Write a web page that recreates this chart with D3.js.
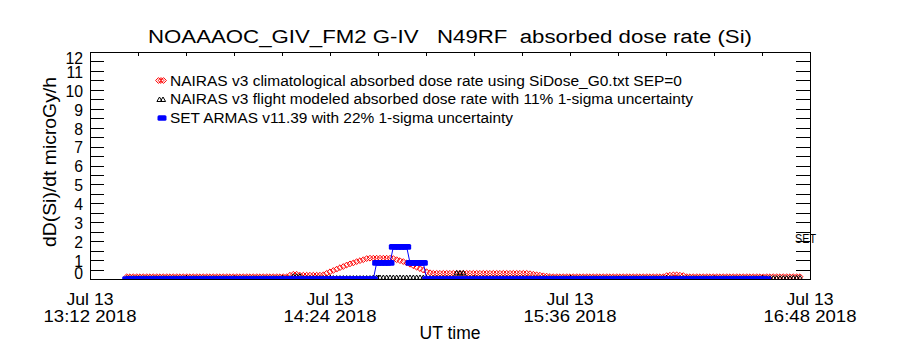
<!DOCTYPE html>
<html><head><meta charset="utf-8">
<script src="https://cdn.jsdelivr.net/npm/d3@7"></script>
<style>
body{margin:0;background:#fff}
svg{display:block}
text{font-family:"Liberation Sans",Arial,sans-serif;fill:#000}
</style>
</head><body>
<svg id="c" width="900" height="350"></svg>
<script>
// ---------------- data ----------------
const title = "NOAAAOC_GIV_FM2 G-IV   N49RF  absorbed dose rate (Si)";
const yLabel = "dD(Si)/dt microGy/h";
const xLabel = "UT time";
const rightLabel = "SET";
const legendLabels = [
  "NAIRAS v3 climatological absorbed dose rate using SiDose_G0.txt SEP=0",
  "NAIRAS v3 flight modeled absorbed dose rate with 11% 1-sigma uncertainty",
  "SET ARMAS v11.39 with 22% 1-sigma uncertainty"
];
const xTickDates = ["Jul 13", "Jul 13", "Jul 13", "Jul 13"];
const xTickTimes = ["13:12 2018", "14:24 2018", "15:36 2018", "16:48 2018"];
const xTickMinutes = [0, 72, 144, 216];          // minutes after 13:12 UT
const yTickLabels = [0,1,2,3,4,5,6,7,8,9,10,11,12];
const startMinute = 11;                           // first sample, minutes after 13:12 UT, one sample per minute

const climatological = [
  0.12,0.12,0.12,0.12,0.12,0.12,0.12, 0.12,0.12,0.12,0.12,0.12,0.12,0.12,
  0.12,0.12,0.12,0.12,0.12,0.12,0.12, 0.12,0.12,0.12,0.12,0.12,0.12,0.12,
  0.12,0.12,0.12,0.12,0.12,0.12,0.12, 0.12,0.12,0.12,0.12,0.12,0.12,0.12,
  0.12,0.12,0.12,0.12,0.12,0.12,0.12,
  0.2,0.25,0.25,0.2,
  0.2,0.2,0.2,0.2,0.2,0.2,
  0.22,0.3,0.38,0.45,0.52,0.6,0.66,0.74,0.8,0.85,0.92,0.97,1.02,1.08,
  1.1,1.1,1.1,1.1,1.1,1.1,1.1,
  1.08,1.02,0.97,0.92,0.85,0.78,0.7,0.62,0.55,0.47,0.38,0.33,
  0.3,0.3,0.3,0.3,0.3,0.3,0.3,0.3,0.3,0.3, 0.3,0.3,0.3,0.3,0.3,0.3,0.3,0.3,0.3,0.3,
  0.3,0.3,0.3,0.3,0.3,0.3,0.3,0.3,0.3,
  0.28,0.25,0.22,0.2,0.17,0.15,0.13,
  0.12,0.12,0.12,0.12,0.12,0.12,0.12,0.12,0.12,0.12, 0.12,0.12,0.12,0.12,0.12,0.12,0.12,0.12,0.12,0.12,
  0.12,0.12,0.12,0.12,0.12,0.12,0.12,0.12,0.12,0.12, 0.12,0.12,0.12,0.12,
  0.18,0.2,0.22,0.22,0.2,0.18,
  0.12,0.12,0.12,0.12,0.12,0.12,0.12,0.12,0.12,0.12, 0.12,0.12,0.12,0.12,0.12,0.12,0.12,0.12,0.12,0.12,
  0.12,0.12,0.12,0.12,0.12,0.12,0.12,0.12,0.12,0.12, 0.12,0.12,0.12,0.12,0.12
];

const flightModeled = [
  0.05,0.05,0.05,0.05,0.05,0.05,0.05,0.05,0.05,0.05, 0.05,0.05,0.05,0.05,0.05,0.05,0.05,0.05,0.05,0.05,
  0.05,0.05,0.05,0.05,0.05,0.05,0.05,0.05,0.05,0.05, 0.05,0.05,0.05,0.05,0.05,0.05,0.05,0.05,0.05,0.05,
  0.05,0.05,0.05,0.05,0.05,0.05,0.05,0.05,0.05,0.05,
  0.15,0.15,0.15,
  0.05,0.05,0.05,0.05,0.05,0.05,0.05,0.05,0.05,0.05, 0.05,0.05,0.05,0.05,0.05,0.05,0.05,0.05,0.05,0.05,0.05,
  0.08,0.08,0.08,0.08,0.08,0.08,0.08,0.08,0.08,0.08,0.08,0.08,0.08,0.08,0.08,0.08,
  0.05,0.05,0.05,0.05,0.05,0.05,0.05,0.05,0.05,
  0.32,0.32,0.32,
  0.05,0.05,
  0.05,0.05,0.05,0.05,0.05,0.05,0.05,0.05,0.05,0.05, 0.05,0.05,0.05,0.05,0.05,0.05,0.05,0.05,0.05,0.05,
  0.05,0.05,0.05,0.05,0.05,0.05,0.05,0.05,0.05,0.05, 0.05,0.05,0.05,0.05,0.05,0.05,0.05,0.05,0.05,0.05,
  0.05,0.05,0.05,0.05,0.05,0.05,0.05,0.05,0.05,0.05, 0.05,0.05,0.05,0.05,0.05,0.05,0.05,0.05,0.05,0.05,
  0.05,0.05,0.05,0.05,0.05,0.05,0.05,0.05,0.05,0.05, 0.05,0.05,0.05,0.05,0.05,0.05,0.05,0.05,0.05,0.05,
  0.05,0.05,0.05,0.05,0.05,0.05,0.05,0.05,0.05,0.05, 0.05,0.05,0.05,0.05,0.05,0.05,
  0.06,0.06,0.06
];

const armas = [
  0,0,0,0,0,0,0,0,0,0, 0,0,0,0,0,0,0,0,0,0, 0,0,0,0,0,0,0,0,0,0,
  0,0,0,0,0,0,0,0,0,0, 0,0,0,0,0,0,0,0,0,0, 0,0,0,0,0,0,0,0,0,0,
  0,0,0,0,0,0,0,0,0,0, 0,0,0,0,0,
  0.85,0.85,0.85,0.85,0.85,
  1.7,1.7,1.7,1.7,1.7,
  0.85,0.85,0.85,0.85,0.85,
  0,0,0,0,0,0,0,0,0,0, 0,0,0,0,0,0,0,0,0,0, 0,0,0,0,0,0,0,0,0,0,
  0,0,0,0,0,0,0,0,0,0, 0,0,0,0,0,0,0,0,0,0, 0,0,0,0,0,0,0,0,0,0,
  0,0,0,0,0,0,0,0,0,0, 0,0,0,0,0,0,0,0,0,0, 0,0,0,0,0,0,0,0,0,0,
  0,0,0,0,0,0,0,0,0,0, 0,0,0
];

// ---------------- chart ----------------
const t0 = Date.UTC(2018, 6, 13, 13, 12);
const tAt = m => new Date(t0 + m * 60000);
const svg = d3.select("#c");
const L = 90, R = 810, T = 52, B = 279;

const x = d3.scaleUtc().domain([tAt(0), tAt(216)]).range([L, R]);
const y = d3.scaleLinear().domain([0, 12]).range([B, T]);

const toPts = arr => arr.map((v, i) => ({t: tAt(startMinute + i), v}));
const redPts = toPts(climatological), blkPts = toPts(flightModeled), bluPts = toPts(armas);

svg.append("defs").append("clipPath").attr("id", "clip")
  .append("rect").attr("x", L).attr("y", T).attr("width", R - L).attr("height", B - T);

// axes ticks
const xMinor = d3.range(0, 16).map(i => new Date(t0 + i * 14.4 * 60000)).concat([tAt(216)]);
const yMinor = d3.range(0, 24.5, 1).map(i => i * 0.5);

const fix = g => { g.select(".domain").remove(); g.selectAll("line").attr("stroke", "#000").attr("shape-rendering", "crispEdges"); g.selectAll("text").remove(); };
svg.append("g").attr("transform", `translate(0,${B})`).call(d3.axisBottom(x).tickValues(xMinor).tickSizeInner(-4).tickSizeOuter(0)).call(fix);
svg.append("g").attr("transform", `translate(0,${T})`).call(d3.axisTop(x).tickValues(xMinor).tickSizeInner(-4).tickSizeOuter(0)).call(fix);
svg.append("g").attr("transform", `translate(${L},0)`).call(d3.axisLeft(y).tickValues(yMinor).tickSizeInner(-14).tickSizeOuter(0)).call(fix);
svg.append("g").attr("transform", `translate(${R},0)`).call(d3.axisRight(y).tickValues(yMinor).tickSizeInner(-14).tickSizeOuter(0)).call(fix);

svg.append("rect").attr("x", L + 0.5).attr("y", T + 0.5).attr("width", R - L).attr("height", B - T)
  .attr("fill", "none").attr("stroke", "#000").attr("stroke-width", 1).attr("shape-rendering", "crispEdges");

// y tick labels
svg.append("g").selectAll("text").data(yTickLabels).join("text")
  .attr("x", 83).attr("text-anchor", "end").attr("font-size", 15.8)
  .attr("y", d => d === 0 ? B + 0.3 : (d === 12 ? T + 12 : y(d) + 6.9))
  .text(d => d);

// x tick labels
const xl = svg.append("g").selectAll("g").data(xTickMinutes).join("g");
xl.append("text").attr("x", d => x(tAt(d))).attr("y", 305).attr("text-anchor", "middle").attr("font-size", 16.5)
  .attr("textLength", 47).attr("lengthAdjust", "spacingAndGlyphs")
  .text((d, i) => xTickDates[i]);
xl.append("text").attr("x", d => x(tAt(d))).attr("y", 322).attr("text-anchor", "middle").attr("font-size", 16.5)
  .attr("textLength", 93).attr("lengthAdjust", "spacingAndGlyphs")
  .text((d, i) => xTickTimes[i]);

// titles
svg.append("text").attr("x", 450).attr("y", 43).attr("text-anchor", "middle").attr("font-size", 18)
  .attr("xml:space", "preserve").style("white-space", "pre")
  .attr("textLength", 604).attr("lengthAdjust", "spacingAndGlyphs").text(title);
svg.append("text").attr("x", 450).attr("y", 339).attr("text-anchor", "middle").attr("font-size", 17.5).text(xLabel);
svg.append("text").attr("transform", "translate(56,162) rotate(-90)").attr("text-anchor", "middle").attr("font-size", 17.5)
  .attr("textLength", 170).attr("lengthAdjust", "spacingAndGlyphs").text(yLabel);
svg.append("text").attr("x", 795).attr("y", 243).attr("font-size", 13).attr("textLength", 21)
  .attr("lengthAdjust", "spacingAndGlyphs").text(rightLabel);

// symbols
const diamond = (g, cx, cy) => g.append("path").attr("d", `M${cx},${cy-2.9}L${cx+2.9},${cy}L${cx},${cy+2.9}L${cx-2.9},${cy}Z`)
  .attr("fill", "none").attr("stroke", "#ff0000").attr("stroke-width", 1);
const tri = (g, cx, cy) => g.append("path").attr("d", `M${cx},${cy-2.5}L${cx+2.6},${cy+2}L${cx-2.6},${cy+2}Z`)
  .attr("fill", "none").attr("stroke", "#000").attr("stroke-width", 1);
const bar = (g, cx, cy) => g.append("rect").attr("x", cx - 4.5).attr("y", cy - 2.8).attr("width", 9).attr("height", 5.6)
  .attr("rx", 1.5).attr("fill", "#0000ff");

const plot = svg.append("g").attr("clip-path", "url(#clip)");
const gRed = plot.append("g");
redPts.forEach(p => diamond(gRed, x(p.t), y(p.v)));
const gBlk = plot.append("g");
blkPts.forEach(p => tri(gBlk, x(p.t), y(p.v)));
const gBlu = plot.append("g");
gBlu.append("path").datum(bluPts).attr("fill", "none").attr("stroke", "#0000ff").attr("stroke-width", 1)
  .attr("d", d3.line().x(d => x(d.t)).y(d => y(d.v)));
bluPts.forEach(p => bar(gBlu, x(p.t), y(p.v)));

// legend
const lg = svg.append("g");
const legY = [86, 104, 123];
const legW = [512, 523, 343];
legendLabels.forEach((s, i) => {
  lg.append("text").attr("x", 170).attr("y", legY[i]).attr("font-size", 14)
    .attr("textLength", legW[i]).attr("lengthAdjust", "spacingAndGlyphs").text(s);
});
[158.5, 161, 163.5].forEach(cx => diamond(lg, cx, 80.5));
[159.5, 163].forEach(cx => tri(lg, cx, 99.5));
bar(lg, 162, 118);
</script>
</body></html>
